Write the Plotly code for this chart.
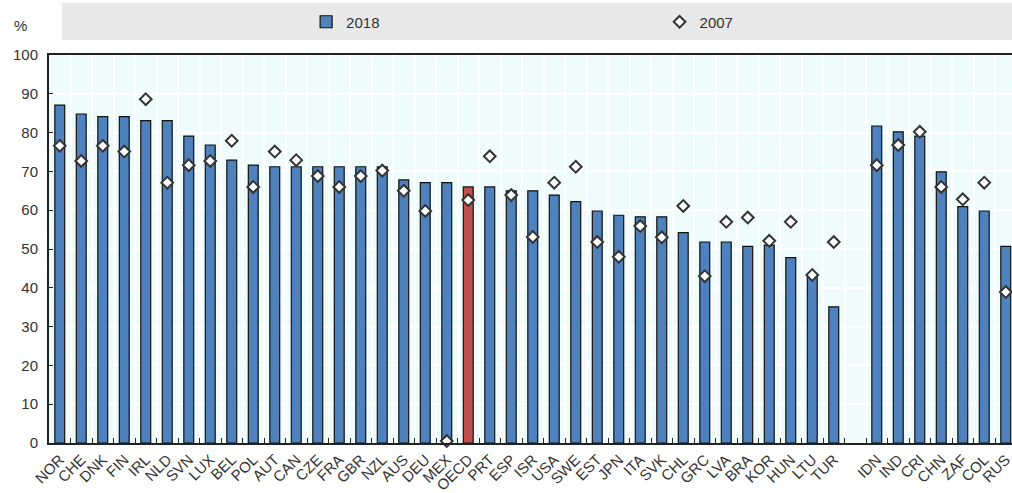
import plotly.graph_objects as go

categories = ["NOR", "CHE", "DNK", "FIN", "IRL", "NLD", "SVN", "LUX", "BEL", "POL",
              "AUT", "CAN", "CZE", "FRA", "GBR", "NZL", "AUS", "DEU", "MEX", "OECD",
              "PRT", "ESP", "ISR", "USA", "SWE", "EST", "JPN", "ITA", "SVK", "CHL",
              "GRC", "LVA", "BRA", "KOR", "HUN", "LTU", "TUR", " ",
              "IDN", "IND", "CRI", "CHN", "ZAF", "COL", "RUS"]

values_2018 = [87.1, 84.8, 84.1, 84.1, 83.1, 83.1, 79.1, 76.8, 72.9, 71.6,
               71.2, 71.2, 71.2, 71.2, 71.2, 71.2, 67.8, 67.1, 67.1, 66.0,
               66.0, 65.0, 65.0, 63.9, 62.2, 59.8, 58.7, 58.3, 58.3, 54.2,
               51.8, 51.8, 50.7, 51.0, 47.8, 42.8, 35.1, None,
               81.7, 80.2, 79.1, 69.9, 60.9, 59.8, 50.7]

values_2007 = [76.6, 72.7, 76.6, 75.1, 88.6, 67.1, 71.6, 72.7, 77.9, 66.0,
               75.1, 72.9, 68.8, 66.0, 68.8, 70.2, 65.0, 59.8, 0.5, 62.6,
               73.9, 63.9, 53.1, 67.1, 71.2, 51.8, 48.0, 55.9, 53.0, 61.1,
               43.0, 57.0, 58.1, 52.1, 57.0, 43.3, 51.8, None,
               71.6, 76.8, 80.2, 66.0, 62.8, 67.1, 38.9]

y_ticks = [0, 10, 20, 30, 40, 50, 60, 70, 80, 90, 100]

BLUE = "#4F81BD"
RED = "#C0504D"
bar_colors = [RED if c == "OECD" else BLUE for c in categories]

FONT = "Liberation Sans, Arial, sans-serif"
TXT = "#333333"

fig = go.Figure()
fig.add_trace(go.Bar(
    x=categories, y=values_2018, name="2018",
    marker=dict(color=bar_colors, line=dict(color="#111111", width=1.2)),
    width=0.46, legend="legend",
))
fig.add_trace(go.Scatter(
    x=categories, y=values_2007, name="2007", mode="markers",
    marker=dict(symbol="diamond", size=9, color="white",
                line=dict(color="#333333", width=2)),
    cliponaxis=False, legend="legend2",
))

leg_common = dict(orientation="h", yanchor="middle", xanchor="left",
                  bgcolor="rgba(0,0,0,0)",
                  font=dict(size=15, family=FONT, color=TXT))

fig.update_layout(
    width=1012, height=493,
    margin=dict(l=49, r=0, t=55, b=50, autoexpand=False),
    paper_bgcolor="white",
    plot_bgcolor="#EEFCFC",
    font=dict(family=FONT, color=TXT),
    showlegend=True,
    legend=dict(x=0.267, y=1.085, **leg_common),
    legend2=dict(x=0.634, y=1.085, **leg_common),
    shapes=[dict(type="rect", xref="paper", yref="paper",
                 x0=0.0135, x1=1.0, y0=1.0387, y1=1.134,
                 fillcolor="#E8E8E8", line=dict(width=0), layer="below")],
    annotations=[dict(text="%", xref="paper", yref="paper", x=-0.030, y=1.077,
                      showarrow=False, font=dict(size=15, family=FONT, color=TXT),
                      xanchor="center", yanchor="middle")],
)

fig.update_xaxes(
    type="category", categoryorder="array", categoryarray=categories,
    range=[-0.5, 44.29], automargin=False,
    tickangle=-45, tickfont=dict(size=15, family=FONT, color=TXT),
    tickson="boundaries", ticks="inside", ticklen=5, tickcolor="#222222",
    showgrid=True, gridcolor="white", gridwidth=1.5,
    showline=True, linecolor="#222222", linewidth=2, mirror=True,
    fixedrange=True,
)
fig.update_yaxes(
    range=[0, 100], tickvals=y_ticks, automargin=False,
    tickfont=dict(size=15, family=FONT, color=TXT),
    ticks="inside", ticklen=4, tickcolor="#222222", ticklabelstandoff=6,
    showgrid=True, gridcolor="white", gridwidth=1.5,
    showline=True, linecolor="#222222", linewidth=2,
    zeroline=False, fixedrange=True,
)

fig.write_html("out.html", config={"displayModeBar": False},
               post_script="document.body.style.margin='0';document.body.style.overflow='hidden';")
